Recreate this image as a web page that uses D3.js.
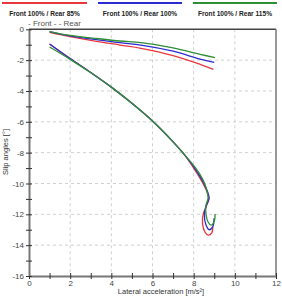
<!DOCTYPE html>
<html>
<head>
<meta charset="utf-8">
<script src="https://cdn.jsdelivr.net/npm/d3@7"></script>
<style>
  body { margin: 0; background: #fff; }
  svg { font-family: Arial, 'Liberation Sans', sans-serif; }
</style>
</head>
<body>
<div id="graf"></div>
<script>
const anchoTotal = 282
const altoTotal = 296

// series names and colours
const series = ['Front 100% / Rear 85%', 'Front 100% / Rear 100%', 'Front 100% / Rear 115%']
const colores = ['#e8383d', '#2b2bd0', '#2f8f35']

const xTicks = [0, 2, 4, 6, 8, 10, 12]
const yTicks = [0, -2, -4, -6, -8, -10, -12, -14, -16]

// upper curves [lateral acc, slip angle]
const upperRed = [[1, -0.2], [2, -0.48], [3, -0.72], [4.42, -1.02], [5.44, -1.23], [7, -1.7], [8.31, -2.27], [8.96, -2.6]]
const upperBlue = [[1, -0.15], [2, -0.43], [3, -0.62], [4.42, -0.87], [5.44, -1.02], [7, -1.42], [8.31, -1.93], [9.0, -2.14]]
const upperGreen = [[1, -0.15], [2, -0.4], [3, -0.55], [4.42, -0.76], [5.44, -0.87], [7, -1.2], [8.31, -1.62], [9.04, -1.84]]

// lower curves
const lowerRed = [[1, -0.95], [2, -1.9], [3, -2.8], [4, -3.75], [5, -4.8], [6, -5.95], [7, -7.3], [7.5, -8.05],
  [8.0, -9.0], [8.35, -9.75], [8.62, -10.45], [8.74, -10.95], [8.64, -11.4], [8.47, -11.95], [8.43, -12.6], [8.55, -13.15],
  [8.71, -13.35], [8.88, -13.2], [8.93, -12.8]]
const lowerBlue = [[1, -0.95], [2, -1.9], [3, -2.8], [4, -3.75], [5, -4.8], [6, -5.95], [7, -7.3], [7.5, -8.05],
  [8.05, -9.0], [8.4, -9.75], [8.65, -10.45], [8.75, -10.95], [8.62, -11.4], [8.52, -12.0], [8.6, -12.7], [8.76, -13.0],
  [8.93, -12.8], [8.99, -12.26]]
const lowerGreen = [[1, -1.15], [2, -1.95], [3, -2.82], [4, -3.75], [5, -4.8], [6, -5.95], [7, -7.3], [7.5, -8.05],
  [8.1, -9.0], [8.45, -9.75], [8.64, -10.45], [8.7, -10.95], [8.6, -11.4], [8.6, -12.0], [8.7, -12.5], [8.85, -12.7],
  [9.0, -12.45], [9.04, -11.98]]

const curvas = [
  { c: 0, d: upperRed }, { c: 1, d: upperBlue }, { c: 2, d: upperGreen },
  { c: 0, d: lowerRed }, { c: 1, d: lowerBlue }, { c: 2, d: lowerGreen },
]

const svg = d3.select('#graf')
  .append('svg')
  .attr('width', anchoTotal)
  .attr('height', altoTotal)

const margin = { top: 29.3, left: 29, right: 6, bottom: 20 }
const ancho = anchoTotal - margin.left - margin.right
const alto = altoTotal - margin.top - margin.bottom

const x = d3.scaleLinear().domain([0, 12]).range([0, ancho])
const y = d3.scaleLinear().domain([0, -16]).range([0, alto])

const g = svg.append('g')
  .attr('transform', `translate(${margin.left}, ${margin.top})`)

// grid
g.selectAll('.gx').data(xTicks.slice(1, -1)).enter().append('line')
  .attr('x1', d => x(d)).attr('x2', d => x(d))
  .attr('y1', 0).attr('y2', alto)
  .attr('stroke', '#d0d0d0').attr('stroke-dasharray', '3,3')
g.selectAll('.gy').data(yTicks.slice(1, -1)).enter().append('line')
  .attr('y1', d => y(d)).attr('y2', d => y(d))
  .attr('x1', 0).attr('x2', ancho)
  .attr('stroke', '#d0d0d0').attr('stroke-dasharray', '3,3')

// frame
g.append('line').attr('x1', 0).attr('x2', ancho).attr('y1', 0).attr('y2', 0)
  .attr('stroke', '#444').attr('stroke-width', 1.5)
g.append('line').attr('x1', ancho).attr('x2', ancho).attr('y1', 0).attr('y2', alto)
  .attr('stroke', '#777').attr('stroke-width', 1.5)

// axes
const xAxis = g.append('g')
  .attr('transform', `translate(0, ${alto})`)
  .call(d3.axisBottom(x).tickValues(d3.range(0, 13, 1)).tickSize(0).tickFormat(d => d % 2 === 0 ? d : ''))
xAxis.select('.domain').attr('stroke', '#777').attr('stroke-width', 2)
xAxis.selectAll('.tick').append('line')
  .attr('y1', -3).attr('y2', 3).attr('stroke', '#333')
xAxis.selectAll('text').attr('font-size', 8).attr('fill', '#444').attr('dy', '0.95em').attr('y', 2)

const yAxis = g.append('g')
  .call(d3.axisLeft(y).tickValues(d3.range(0, -17, -1)).tickSize(0).tickFormat(d => d % 2 === 0 ? d : ''))
yAxis.select('.domain').attr('stroke', '#777').attr('stroke-width', 2)
yAxis.selectAll('.tick').append('line')
  .attr('x1', -3).attr('x2', 3).attr('stroke', '#333')
yAxis.selectAll('text').attr('font-size', 8).attr('fill', '#444').attr('x', -5)

// curves
const linea = d3.line()
  .x(d => x(d[0]))
  .y(d => y(d[1]))
  .curve(d3.curveCatmullRom)

g.selectAll('.curva').data(curvas).enter().append('path')
  .attr('d', d => linea(d.d))
  .attr('fill', 'none')
  .attr('stroke', d => colores[d.c])
  .attr('stroke-width', 1.3)

// legend
const legX = [[2, 87], [98, 182], [193, 277]]
series.forEach((s, i) => {
  svg.append('line')
    .attr('x1', legX[i][0]).attr('x2', legX[i][1])
    .attr('y1', 3).attr('y2', 3)
    .attr('stroke', colores[i]).attr('stroke-width', 2)
  svg.append('text')
    .attr('x', (legX[i][0] + legX[i][1]) / 2)
    .attr('y', 16)
    .attr('text-anchor', 'middle')
    .attr('font-size', 6.6)
    .attr('font-weight', 'bold')
    .attr('fill', '#222')
    .text(s)
})

svg.append('text')
  .attr('x', 28).attr('y', 26)
  .attr('font-size', 8)
  .attr('fill', '#555')
  .text('- Front - - Rear')

// axis titles
svg.append('text')
  .attr('x', 161).attr('y', 294)
  .attr('text-anchor', 'middle')
  .attr('font-size', 7.5)
  .attr('fill', '#333')
  .text('Lateral acceleration [m/s²]')

svg.append('text')
  .attr('transform', 'translate(8, 152) rotate(-90)')
  .attr('text-anchor', 'middle')
  .attr('font-size', 7.5)
  .attr('fill', '#333')
  .text('Slip angles [°]')
</script>
</body>
</html>
